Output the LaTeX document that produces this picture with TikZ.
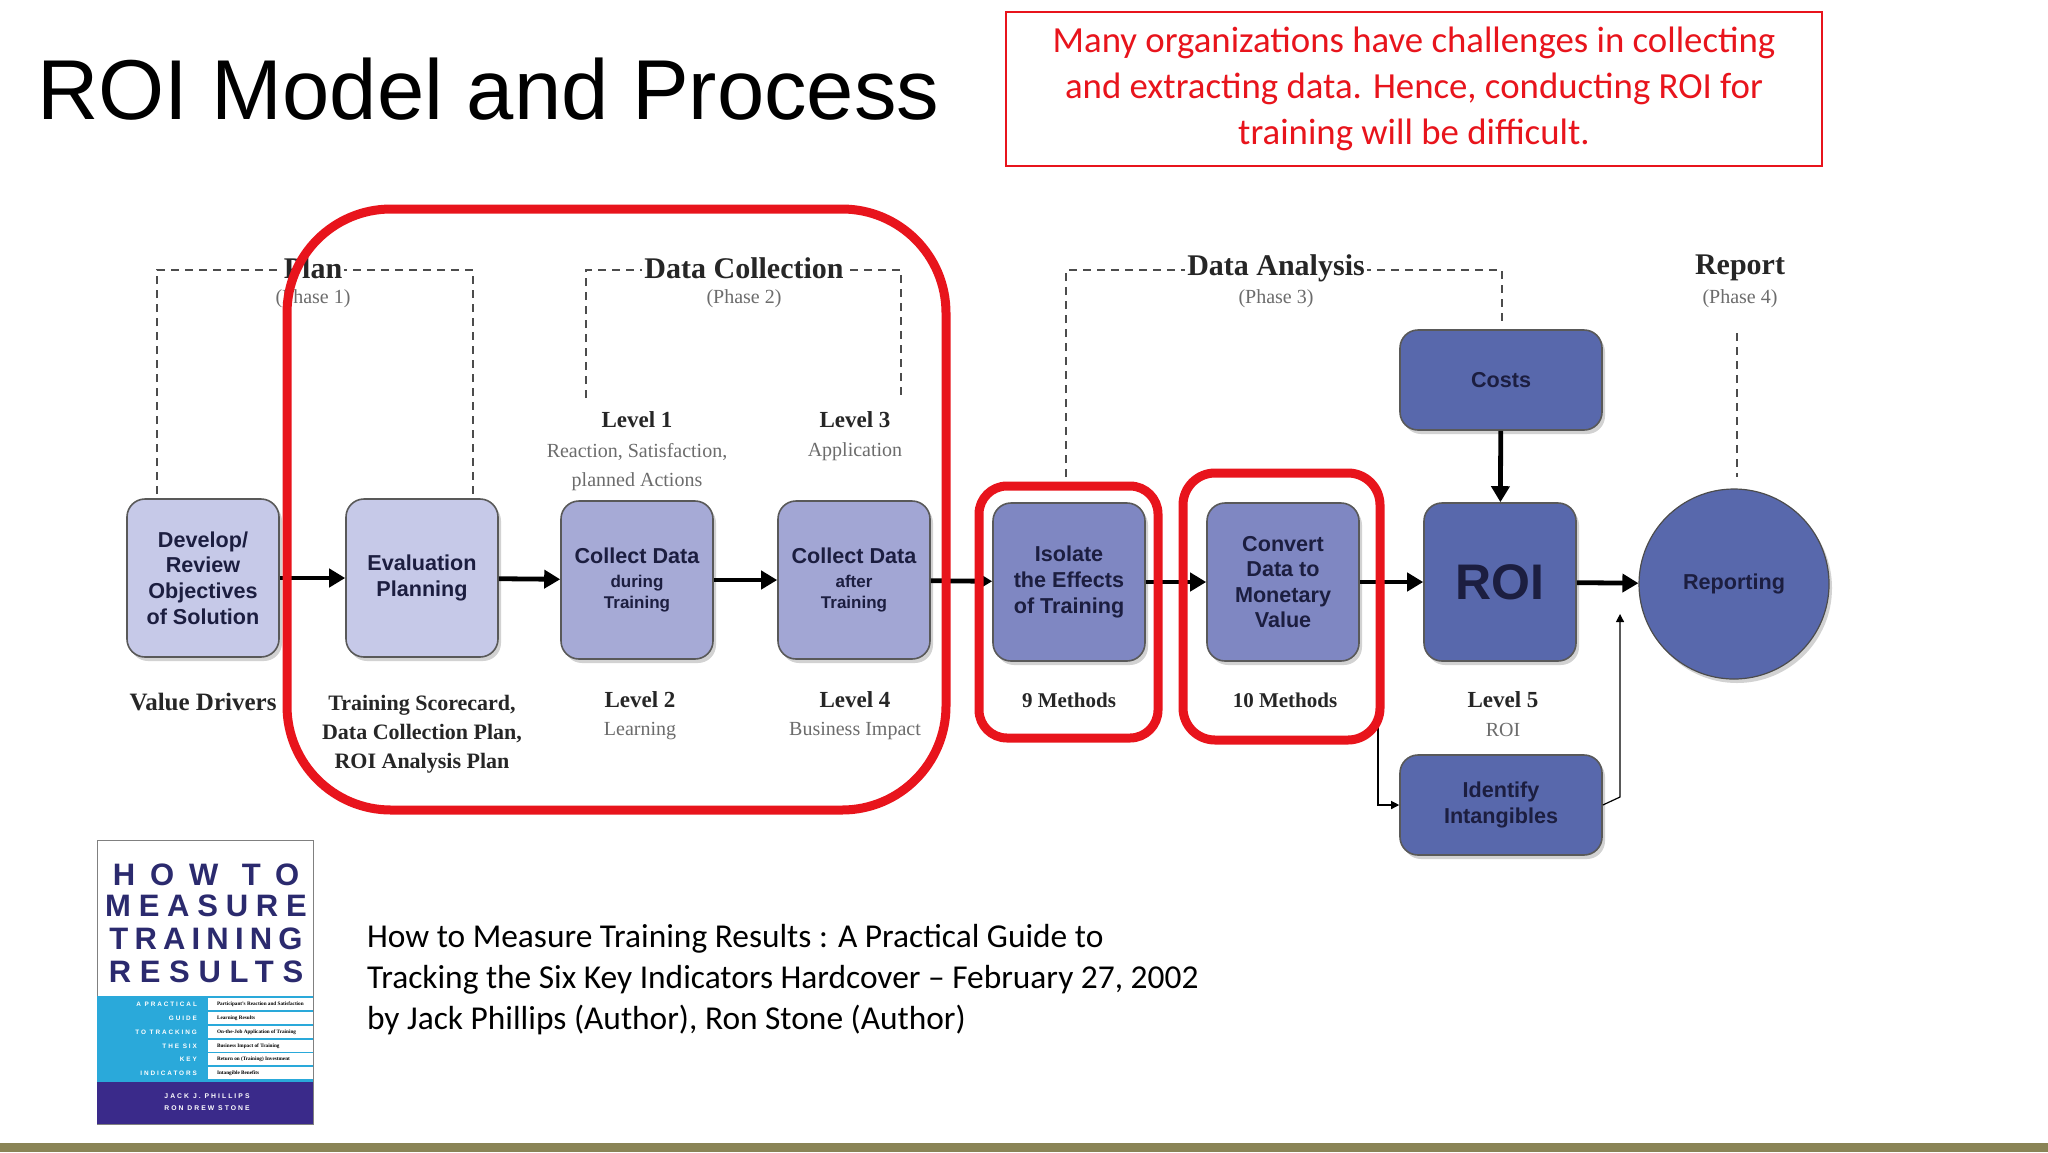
\documentclass[tikz,border=0pt]{standalone}
\usepackage{fontspec}
\setmainfont{Liberation Serif}
\setsansfont{Liberation Sans}
\newfontfamily\carl{Carlito}
\newfontfamily\bookfont[LetterSpace=22]{Liberation Sans}
\usetikzlibrary{arrows.meta,shadows,positioning}
\definecolor{lav1}{HTML}{C6C9E8}
\definecolor{lav2}{HTML}{A6AAD6}
\definecolor{lav3}{HTML}{7F87C2}
\definecolor{blu}{HTML}{5868AC}
\definecolor{navy}{HTML}{1C1E40}
\definecolor{redc}{HTML}{E8141C}
\definecolor{olive}{HTML}{8A8456}
\definecolor{bknavy}{HTML}{2B2A6E}
\definecolor{bkcyan}{HTML}{2AA9DA}
\definecolor{bkpurp}{HTML}{3A2A8A}
\tikzset{
 pbox/.style={draw=gray!70!black, line width=0.8pt, rounded corners=9pt, minimum width=76pt, minimum height=79pt, align=center, font=\sffamily\bfseries\fontsize{10.8}{12.8}\selectfont, text=navy, drop shadow={shadow xshift=1.5pt,shadow yshift=-2pt,opacity=0.35}},
 wbox/.style={pbox, minimum width=101pt, minimum height=50pt},
 flow/.style={-{Triangle[length=8pt,width=9pt]}, line width=2.4pt},
 thin/.style={-{Triangle[length=4pt,width=4pt]}, line width=0.6pt},
 dashln/.style={line width=0.9pt, gray!60!black, dash pattern=on 4pt off 3pt},
 phase/.style={font=\bfseries\fontsize{15}{17}\selectfont, text=black!85, fill=white, inner sep=1pt},
 sub/.style={font=\fontsize{10}{14.5}\selectfont, text=gray!85!black, align=center},
 lvl/.style={font=\bfseries\fontsize{11.5}{14}\selectfont, text=black!85, align=center},
 redbox/.style={draw=redc, line width=4.5pt},
 cite/.style={font=\carl\fontsize{16.7}{20.5}\selectfont, align=left, anchor=north west},
}
\begin{document}
\begin{tikzpicture}[x=0.5pt,y=-0.5pt]
\useasboundingbox (0,0) rectangle (2048,1152);
\fill[white] (0,0) rectangle (2048,1152);
\fill[olive] (0,1143) rectangle (2048,1152);
% title
\node[anchor=west, font=\sffamily\fontsize{42.5}{50}\selectfont] (title) at (30,89) {ROI Model and Process};
\node[draw=redc, line width=0.9pt, minimum width=408pt, minimum height=77pt, align=center, text=redc, font=\carl\fontsize{18.4}{23}\selectfont] (note) at (1414,89) {Many organizations have challenges in collecting\\and extracting data. Hence, conducting ROI for\\training will be difficult.};
% dashed brackets
\draw[dashln] (157,494) -- (157,270) -- (473,270) -- (473,494);
\draw[dashln] (586,398) -- (586,270) -- (901,270) -- (901,398);
\draw[dashln] (1066,477) -- (1066,270) -- (1502,270) -- (1502,322);
\draw[dashln] (1737,333) -- (1737,477);
\node[phase] (plan) at (313,268) {Plan};
\node[sub] (ph1) at (313,299) {(Phase 1)};
\node[phase] (dc) at (744,268) {Data Collection};
\node[sub] (ph2) at (744,299) {(Phase 2)};
\node[phase] (da) at (1276,268) {Data Analysis};
\node[sub] (ph3) at (1276,299) {(Phase 3)};
\node[phase] (rep) at (1740,268) {Report};
\node[sub] (ph4) at (1740,299) {(Phase 4)};
% boxes
\node[pbox, fill=lav1] (dev) at (203,578) {Develop/\\Review\\Objectives\\of Solution};
\node[pbox, fill=lav1] (eval) at (422,578) {Evaluation\\Planning};
\node[pbox, fill=lav2] (cd1) at (637,580) {Collect Data\\[-1pt]{\fontsize{8.5}{10}\selectfont during}\\[-2pt]{\fontsize{8.5}{10}\selectfont Training}};
\node[pbox, fill=lav2!90!lav3] (cd2) at (854,580) {Collect Data\\[-1pt]{\fontsize{8.5}{10}\selectfont after}\\[-2pt]{\fontsize{8.5}{10}\selectfont Training}};
\node[pbox, fill=lav3] (iso) at (1069,582) {Isolate\\the Effects\\of Training};
\node[pbox, fill=lav3] (conv) at (1283,582) {Convert\\Data to\\Monetary\\Value};
\node[pbox, fill=blu, font=\sffamily\bfseries\fontsize{25}{28}\selectfont] (roi) at (1500,582) {ROI};
\node[circle, fill=blu, draw=gray!60!black, line width=0.6pt, minimum size=95pt, font=\sffamily\bfseries\fontsize{10.8}{12.8}\selectfont, text=navy, drop shadow={shadow xshift=1.5pt,shadow yshift=-2pt,opacity=0.35}] (rpt) at (1734,584) {Reporting};
\node[wbox, fill=blu] (costs) at (1501,380) {Costs};
\node[wbox, fill=blu] (intan) at (1501,805) {Identify\\Intangibles};
% arrows
\draw[flow] (dev) -- (eval);
\draw[flow] (eval) -- (cd1);
\draw[flow] (cd1) -- (cd2);
\draw[flow] (cd2) -- (iso);
\draw[flow] (iso) -- (conv);
\draw[flow] (conv) -- (roi);
\draw[flow] (roi) -- (rpt);
\draw[flow] (costs) -- (roi);
\coordinate (t1) at (1378,712);
\coordinate (t2) at (1620,797);
\coordinate (t3) at (1620,614);
\draw[thin] (t1) |- (intan.west);
\draw[thin] (intan.east) -- (t2) -- (t3);
% labels above
\node[lvl] (l1) at (637,420) {Level 1};
\node[sub, anchor=north] (l1s) at (637,436) {Reaction, Satisfaction,\\planned Actions};
\node[lvl] (l3) at (855,420) {Level 3};
\node[sub, anchor=north] (l3s) at (855,436) {Application};
% labels below
\node[lvl, font=\bfseries\fontsize{12.5}{14}\selectfont] (vd) at (203,702) {Value Drivers};
\node[lvl, anchor=north, font=\bfseries\fontsize{11}{14.5}\selectfont] (ts) at (422,688) {Training Scorecard,\\Data Collection Plan,\\ROI Analysis Plan};
\node[lvl] (l2) at (640,700) {Level 2};
\node[sub] (l2s) at (640,731) {Learning};
\node[lvl] (l4) at (855,700) {Level 4};
\node[sub] (l4s) at (855,731) {Business Impact};
\node[lvl, font=\bfseries\fontsize{10.5}{14}\selectfont] (m9) at (1069,700) {9 Methods};
\node[lvl, font=\bfseries\fontsize{10.5}{14}\selectfont] (m10) at (1285,700) {10 Methods};
\node[lvl] (l5) at (1503,700) {Level 5};
\node[sub] (l5s) at (1503,730) {ROI};
% red highlight frames
\draw[redbox, rounded corners=52pt] (287,209) rectangle (946,810);
\draw[redbox, rounded corners=14pt] (979,486) rectangle (1158,738);
\draw[redbox, rounded corners=16pt] (1183,473) rectangle (1380,740);
% book cover
\draw[gray, line width=0.5pt, fill=white] (97,840) rectangle (313,1124);
\fill[bkcyan] (97,996) rectangle (313,1082);
\fill[bkpurp] (97,1082) rectangle (313,1124);
\foreach \y/\t/\s in {875/HOW TO/48,906/MEASURE/25,939/TRAINING/20,972/RESULTS/28}{
  \node[font=\sffamily\bfseries\fontsize{15.5}{16}\selectfont, text=bknavy] at (206,\y) {\addfontfeatures{LetterSpace=\s}\t};}
\foreach \y/\l/\r in {1004/A PRACTICAL/Participant's Reaction and Satisfaction,1018/GUIDE/Learning Results,1032/TO TRACKING/On-the-Job Application of Training,1046/THE SIX/Business Impact of Training,1059/KEY/Return on (Training) Investment,1073/INDICATORS/Intangible Benefits}{
  \fill[white] (208,\y-6) rectangle (313,\y+6);
  \node[anchor=east, font=\sffamily\bfseries\fontsize{3.2}{4}\selectfont, text=white] at (204,\y) {\addfontfeatures{LetterSpace=30}\l};
  \node[anchor=west, font=\bfseries\fontsize{2.6}{3}\selectfont, text=black] at (210,\y) {\r};}
\node[font=\sffamily\bfseries\fontsize{3.4}{4}\selectfont, text=white] at (207,1096) {\addfontfeatures{LetterSpace=30}JACK J. PHILLIPS};
\node[font=\sffamily\bfseries\fontsize{3.4}{4}\selectfont, text=white] at (207,1108) {\addfontfeatures{LetterSpace=30}RON DREW STONE};
% citation
\node[cite] (cite) at (360,917) {How to Measure Training Results : A Practical Guide to\\Tracking the Six Key Indicators Hardcover – February 27, 2002\\by Jack Phillips (Author), Ron Stone (Author)};
\end{tikzpicture}
\end{document}
